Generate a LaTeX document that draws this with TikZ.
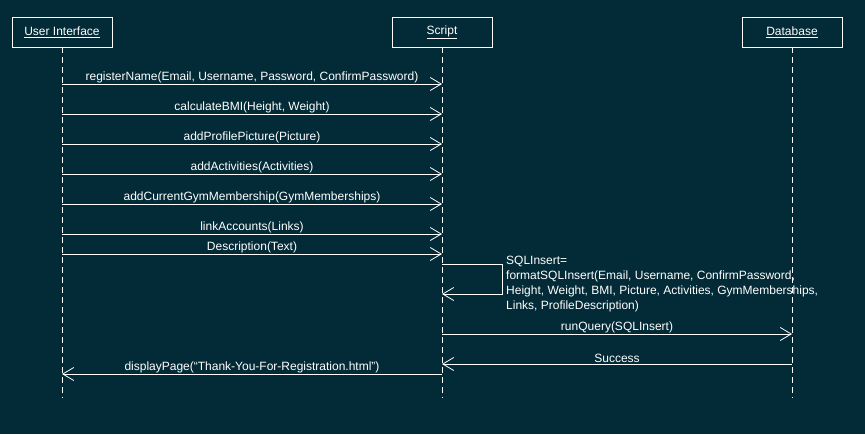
\documentclass[tikz,border=0pt]{standalone}
\usepackage{fontspec}
\setmainfont{Liberation Sans}
\usetikzlibrary{arrows.meta}
\definecolor{bgc}{HTML}{022A37}
\begin{document}
\begin{tikzpicture}[x=1pt,y=-1pt,
  every node/.style={text=white,font=\fontsize{12}{15}\selectfont},
  lifebox/.style={draw=white,line width=0.8pt,minimum width=100pt,minimum height=30pt,inner sep=0pt},
  lifeline/.style={draw=white,line width=0.8pt,dash pattern=on 6pt off 4pt},
  msg/.style={draw=white,line width=0.8pt,-{Straight Barb[length=11pt,width=13pt,line width=0.8pt]}},
  lbl/.style={inner sep=0pt,above=1pt}]
\fill[bgc] (0,0) rectangle (865,434);
\useasboundingbox (0,0) rectangle (865,434);
% lifeline heads
\node[lifebox] (ui) at (62,32) {\underline{User Interface}};
\node[lifebox] (sc) at (442,32) {\underline{Script}};
\node[lifebox] (db) at (792,32) {\underline{Database}};
\coordinate (uiend) at (62,398);
\coordinate (scend) at (442,398);
\coordinate (dbend) at (792,398);
\draw[lifeline] (ui.south) -- (uiend);
\draw[lifeline] (sc.south) -- (scend);
\draw[lifeline] (db.south) -- (dbend);
% message anchor points
\foreach \n/\y in {1/84,2/114,3/144,4/174,5/204,6/234,7/254}{
  \coordinate (u\n) at (62,\y);
  \coordinate (s\n) at (442,\y);
}
\draw[msg] (u1) -- node[lbl]{registerName(Email, Username, Password, ConfirmPassword)} (s1);
\draw[msg] (u2) -- node[lbl]{calculateBMI(Height, Weight)} (s2);
\draw[msg] (u3) -- node[lbl]{addProfilePicture(Picture)} (s3);
\draw[msg] (u4) -- node[lbl]{addActivities(Activities)} (s4);
\draw[msg] (u5) -- node[lbl]{addCurrentGymMembership(GymMemberships)} (s5);
\draw[msg] (u6) -- node[lbl]{linkAccounts(Links)} (s6);
\draw[msg] (u7) -- node[lbl]{Description(Text)} (s7);
% self message
\coordinate (self1) at (442,264);
\coordinate (self2) at (442,294);
\draw[msg] (self1) -- (502,264) -- (502,294) -- (self2);
\node[anchor=north west,inner sep=0pt,align=left] (sqltxt) at (506,256)
 {SQLInsert=\\formatSQLInsert(Email, Username, ConfirmPassword,\\Height, Weight, BMI, Picture, Activities, GymMemberships,\\Links, ProfileDescription)};
% query
\coordinate (sq) at (442,334);
\coordinate (dq) at (792,334);
\draw[msg] (sq) -- node[lbl]{runQuery(SQLInsert)} (dq);
\coordinate (ds) at (792,364);
\coordinate (ss) at (442,364);
\draw[msg] (ds) -- node[lbl]{Success} (ss);
\coordinate (sd) at (442,374);
\coordinate (ud) at (62,374);
\draw[msg] (sd) -- node[lbl]{displayPage(“Thank-You-For-Registration.html”)} (ud);
\end{tikzpicture}
\end{document}
